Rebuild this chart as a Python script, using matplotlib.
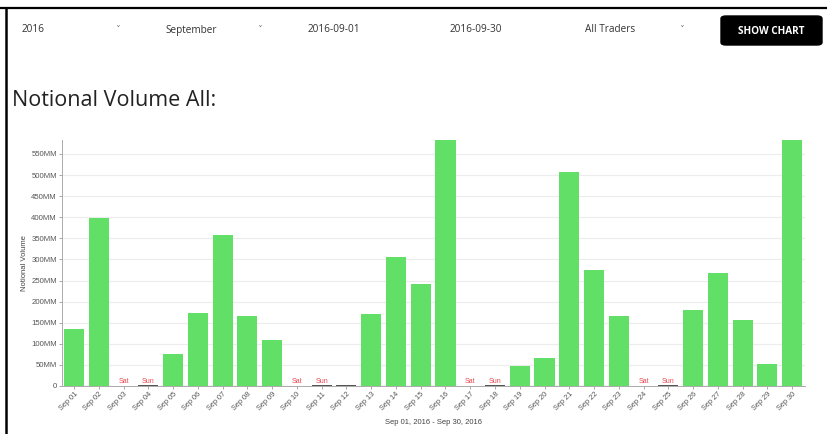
import numpy as np
import matplotlib.pyplot as plt
from matplotlib.patches import FancyBboxPatch

# data (millions)
days = ["Sep %02d" % d for d in range(1, 31)]
volume = [134, 398, 0, 2, 75, 173, 359, 166, 108, 0,
          2, 2, 171, 306, 241, 583, 0, 2, 48, 66,
          507, 275, 166, 0, 2, 180, 268, 156, 53, 585]
weekend = {2: "Sat", 3: "Sun", 9: "Sat", 10: "Sun", 16: "Sat", 17: "Sun",
           23: "Sat", 24: "Sun"}
yticks = list(range(0, 551, 50))
ytick_labels = ["0"] + ["%dMM" % v for v in yticks[1:]]
controls = [("2016", True), ("September", True), ("2016-09-01", False),
            ("2016-09-30", False), ("All Traders", True)]

W, H = 827, 434
fig = plt.figure(figsize=(W / 100, H / 100), dpi=100)

# frame lines of the screenshot
fig.add_artist(plt.Line2D([0, 1], [1 - 7.5 / H, 1 - 7.5 / H], color="black", lw=1.6))
fig.add_artist(plt.Line2D([6 / W, 6 / W], [0, 1 - 7.5 / H], color="black", lw=1.8))

# top control row
ctrl_x = [22, 165, 308, 450, 585]
chev_x = [118, 260, None, None, 682]
for (txt, has_chev), x, cx in zip(controls, ctrl_x, chev_x):
    fig.text(x / W, 1 - 30 / H, txt, fontsize=7.2, family="Open Sans",
             color="#333333", va="center", ha="left")
    if cx:
        fig.text(cx / W, 1 - 31 / H, "\u02c7", fontsize=7, color="#777777",
                 va="center", ha="center")
btn = FancyBboxPatch((721 / W, 1 - 45 / H), 101 / W, 29 / H,
                     boxstyle="round,pad=0,rounding_size=0.006",
                     transform=fig.transFigure, color="black")
fig.add_artist(btn)
fig.text(771 / W, 1 - 31 / H, "SHOW CHART", fontsize=7.2, family="Open Sans",
         weight="bold", color="white", va="center", ha="center")

fig.text(12 / W, 1 - 101 / H, "Notional Volume All:", fontsize=15.5,
         family="Open Sans", color="#222222", va="center", ha="left")

# chart area
ax = fig.add_axes([61.7 / W, 48 / H, (804.5 - 61.7) / W, 246 / H])
x = np.arange(len(days))
tiny = [0 < v < 3 for v in volume]
colors = ["#555555" if t else "#62df67" for t in tiny]
ax.bar(x, volume, width=0.81, color=colors, zorder=3)
for i, lab in weekend.items():
    ax.text(i, 3, lab, color="#e8474f", fontsize=5, ha="center", va="bottom",
            family="Liberation Sans", zorder=4)

ax.set_xlim(-0.5, len(days) - 0.5)
ax.set_ylim(0, 583)
ax.set_yticks(yticks)
ax.set_yticklabels(ytick_labels, fontsize=5.6, color="#555555", family="Liberation Sans")
ax.set_xticks(x)
ax.set_xticklabels(days, rotation=45, ha="right", rotation_mode="anchor",
                   fontsize=5.3, color="#555555", family="Liberation Sans")
ax.tick_params(axis="both", length=2, width=0.6, color="#999999", pad=1.5)
ax.set_ylabel("Notional Volume", fontsize=5.5, color="#444444",
              family="Liberation Sans", labelpad=2)
ax.set_xlabel("Sep 01, 2016 - Sep 30, 2016", fontsize=5.5, color="#444444",
              family="Liberation Sans", labelpad=5)
ax.grid(axis="y", color="#ececec", lw=0.8, zorder=0)
for s in ["top", "right"]:
    ax.spines[s].set_visible(False)
for s in ["left", "bottom"]:
    ax.spines[s].set_color("#aaaaaa")
    ax.spines[s].set_linewidth(0.7)

fig.savefig("out.png", dpi=100)
